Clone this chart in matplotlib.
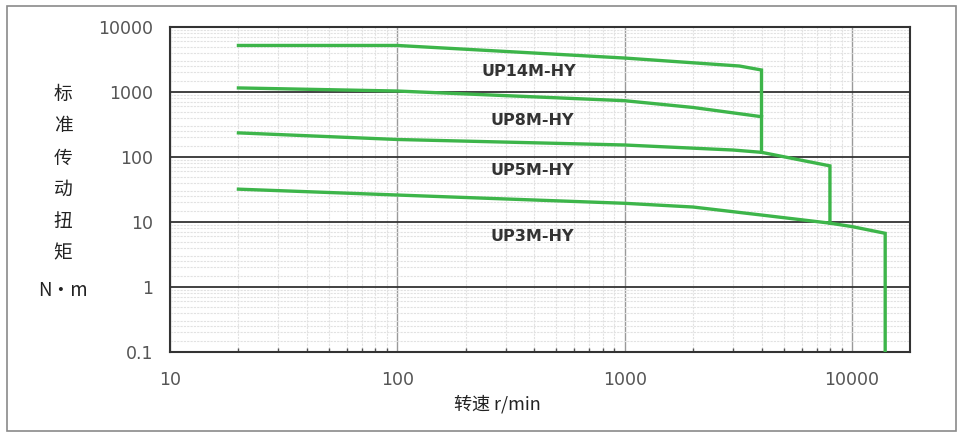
import matplotlib
matplotlib.use("Agg")
import matplotlib.pyplot as plt
from matplotlib.ticker import LogLocator, NullFormatter, FixedLocator, FixedFormatter
from matplotlib.patches import Rectangle

plt.rcParams['font.family'] = ['DejaVu Sans', 'Noto Sans CJK SC']

# ---- data (speed r/min, torque N·m) ----
series_names = ["UP14M-HY", "UP8M-HY", "UP5M-HY", "UP3M-HY"]

up14_speed = [20, 100, 1000, 3200, 4000, 4000]
up14_torque = [5200, 5200, 3330, 2510, 2180, 118]

up8_speed = [20, 100, 1000, 2000, 4000]
up8_torque = [1155, 1035, 735, 578, 417]

up5_speed = [20, 100, 1000, 3000, 4000, 8000, 8000]
up5_torque = [235, 186, 153, 128, 118, 73, 9.6]

up3_speed = [20, 100, 1000, 2000, 4000, 8000, 10000, 14000, 14000]
up3_torque = [32, 26, 19.4, 17, 12.8, 9.6, 8.5, 6.7, 0.1]

x_ticks = [10, 100, 1000, 10000]
x_tick_labels = ["10", "100", "1000", "10000"]
y_ticks = [0.1, 1, 10, 100, 1000, 10000]
y_tick_labels = ["0.1", "1", "10", "100", "1000", "10000"]

y_label_chars = ["标", "准", "传", "动", "扭", "矩", "N•m"]
x_label = "转速 r/min"

# ---- figure ----
W, H = 972, 437
fig = plt.figure(figsize=(W / 100, H / 100), dpi=100)
fig.patch.set_facecolor("white")

# outer frame
fig.patches.append(Rectangle((7 / W, 1 - 431 / H), (956 - 7) / W, (431 - 6) / H,
                             transform=fig.transFigure, fill=False,
                             edgecolor="#8a8a8a", linewidth=1.2))

ax = fig.add_axes([170 / W, 1 - 352 / H, (910 - 170) / W, (352 - 27) / H])
ax.set_xscale("log")
ax.set_yscale("log")
ax.set_xlim(10, 18000)
ax.set_ylim(0.1, 10000)

# grids
ax.xaxis.set_minor_locator(LogLocator(base=10, subs=range(2, 10)))
ax.yaxis.set_minor_locator(LogLocator(base=10, subs=[1.5, 2, 2.5, 3, 4, 5, 6, 7, 8, 9]))
ax.xaxis.set_minor_formatter(NullFormatter())
ax.yaxis.set_minor_formatter(NullFormatter())
ax.grid(which="minor", axis="both", color="#e2e2e2", linewidth=0.8, linestyle=(0, (2, 1)))
ax.grid(which="major", axis="x", color="#9a9a9a", linewidth=1.0)
ax.grid(which="major", axis="y", color="#333333", linewidth=1.3)
ax.set_axisbelow(True)

ax.xaxis.set_major_locator(FixedLocator(x_ticks))
ax.xaxis.set_major_formatter(FixedFormatter(x_tick_labels))
ax.yaxis.set_major_locator(FixedLocator(y_ticks))
ax.yaxis.set_major_formatter(FixedFormatter(y_tick_labels))
ax.tick_params(axis="both", which="major", length=0, labelsize=12.5, labelcolor="#555555")
ax.tick_params(axis="x", which="major", pad=14)
ax.tick_params(axis="y", which="major", pad=12)
ax.tick_params(axis="y", which="minor", length=0)
ax.tick_params(axis="x", which="minor", direction="in", length=3, color="#555555", width=1)

for sp in ax.spines.values():
    sp.set_color("#333333")
    sp.set_linewidth(1.5)

green = "#3db54a"
lw = 2.4
for sx, ty in [(up14_speed, up14_torque), (up8_speed, up8_torque),
               (up5_speed, up5_torque), (up3_speed, up3_torque)]:
    ax.plot(sx, ty, color=green, linewidth=lw, solid_joinstyle="miter", zorder=3)

# series labels
label_pos = [(378, 2100), (394, 362), (394, 61), (394, 5.9)]
for name, (lx, ly) in zip(series_names, label_pos):
    ax.text(lx, ly, name, ha="center", va="center", fontsize=11.5,
            fontweight="bold", color="#333333", zorder=4)

# y label (stacked characters)
ylab_y = [94, 126, 158, 189, 222, 253, 290]
for ch, yy in zip(y_label_chars, ylab_y):
    fig.text(63 / W, 1 - yy / H, ch, ha="center", va="center", fontsize=13.5,
             color="#222222", family=["Noto Sans CJK SC", "DejaVu Sans"])

fig.text(497 / W, 1 - 404 / H, x_label, ha="center", va="center", fontsize=13,
         color="#222222", family=["Noto Sans CJK SC", "DejaVu Sans"])

fig.savefig("out.png", dpi=100)
